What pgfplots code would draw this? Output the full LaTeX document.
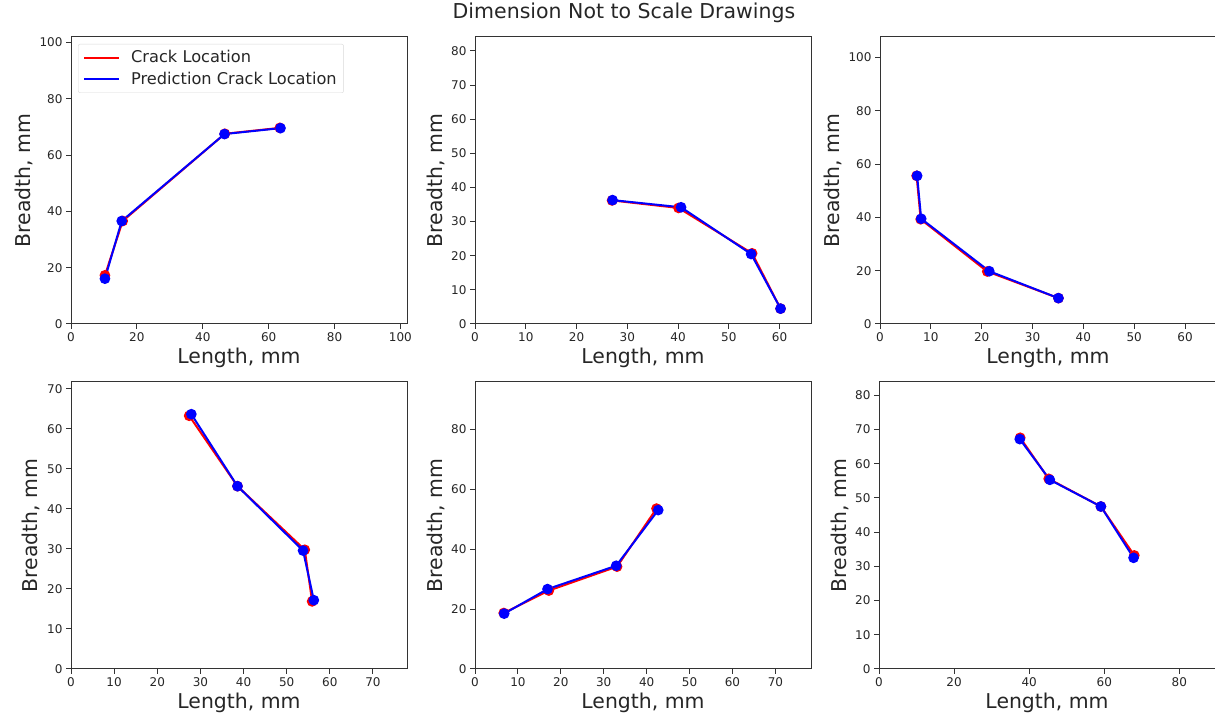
\documentclass[border=0pt]{standalone}
\usepackage{pgfplots}
\pgfplotsset{compat=1.18}
\usepackage{fontspec}
\setmainfont{DejaVu Sans}
\definecolor{spine}{HTML}{333333}
\definecolor{ticktxt}{HTML}{262626}
\pgfplotsset{
  panel/.style={
    scale only axis, width=336bp, height=287bp, anchor=south west,
    axis line style={spine, line width=1bp},
    tick align=outside, major tick length=5bp,
    every tick/.style={spine, line width=1bp},
    tick pos=left,
    tick label style={font=\fontsize{12bp}{14bp}\selectfont, text=ticktxt},
    label style={font=\fontsize{20.4bp}{24bp}\selectfont, text=ticktxt},
    xlabel={Length, mm}, ylabel={Breadth, mm},
    xmin=0, ymin=0,
    /pgf/number format/assume math mode=true,
    legend image code/.code={\draw[#1] (0bp,0bp) -- (35bp,0bp); \path (44bp,0bp);},
  },
  crack/.style={red, line width=2bp, mark=*, mark size=4.3bp, mark options={solid, fill=red, draw=red}},
  pred/.style={blue, line width=2bp, mark=*, mark size=4.3bp, mark options={solid, fill=blue, draw=blue}},
}
\begin{document}
\begin{tikzpicture}[x=1bp,y=1bp]
\useasboundingbox (0,0) rectangle (1215,717);
\node[font=\fontsize{20.5bp}{24bp}\selectfont, text=ticktxt] at (624,704) {Dimension Not to Scale Drawings};
% Panel 1
\begin{axis}[panel, at={(71bp,393bp)}, xmax=102, ymax=102,
  xtick={0,20,...,100}, ytick={0,20,...,100},
  legend style={at={(0,1)}, anchor=north west, xshift=7bp, yshift=-7bp,
    draw=black!15, rounded corners=2bp, font=\fontsize{16.2bp}{19bp}\selectfont,
    text=ticktxt, inner xsep=5bp, inner ysep=4.5bp, row sep=4bp},
  legend cell align=left]
\addplot[crack] coordinates {(10.3,17.3) (15.7,36.6) (46.7,67.6) (63.4,69.7)};
\addlegendentry{Crack Location}
\addplot[pred] coordinates {(10.3,16.1) (15.4,36.6) (46.6,67.5) (63.6,69.6)};
\addlegendentry{Prediction Crack Location}
\end{axis}
% Panel 2
\begin{axis}[panel, at={(475bp,393bp)}, xmax=66.2, ymax=84.1,
  xtick={0,10,...,60}, ytick={0,10,...,80}]
\addplot[crack] coordinates {(27.0,36.2) (40.1,34.0) (54.6,20.7) (60.2,4.5)};
\addplot[pred] coordinates {(27.1,36.3) (40.6,34.2) (54.4,20.5) (60.2,4.5)};
\end{axis}
% Panel 3
\begin{axis}[panel, at={(880bp,393bp)}, xmax=66.1, ymax=107.7,
  xtick={0,10,...,60}, ytick={0,20,...,100}]
\addplot[crack] coordinates {(7.2,55.6) (8.0,39.3) (21.1,19.7) (35.1,9.7)};
\addplot[pred] coordinates {(7.3,55.6) (8.1,39.5) (21.5,19.8) (35.1,9.7)};
\end{axis}
% Panel 4
\begin{axis}[panel, at={(71bp,48bp)}, xmax=77.9, ymax=71.75,
  xtick={0,10,...,70}, ytick={0,10,...,70}]
\addplot[crack] coordinates {(27.4,63.3) (38.6,45.7) (54.2,29.8) (55.9,16.9)};
\addplot[pred] coordinates {(27.9,63.7) (38.6,45.7) (53.8,29.6) (56.3,17.2)};
\end{axis}
% Panel 5
\begin{axis}[panel, at={(475bp,48bp)}, xmax=78.3, ymax=95.9,
  xtick={0,10,...,70}, ytick={0,20,...,80}]
\addplot[crack] coordinates {(6.7,18.7) (17.2,26.2) (33.1,34.2) (42.3,53.6)};
\addplot[pred] coordinates {(6.8,18.5) (16.9,26.7) (32.9,34.5) (42.7,53.1)};
\end{axis}
% Panel 6
\begin{axis}[panel, at={(879bp,48bp)}, xmax=89.5, ymax=83.9,
  xtick={0,20,...,80}, ytick={0,10,...,80}]
\addplot[crack] coordinates {(37.6,67.6) (45.2,55.6) (59.1,47.5) (68.0,33.2)};
\addplot[pred] coordinates {(37.5,67.2) (45.5,55.3) (59.1,47.5) (67.8,32.5)};
\end{axis}
\end{tikzpicture}
\end{document}
